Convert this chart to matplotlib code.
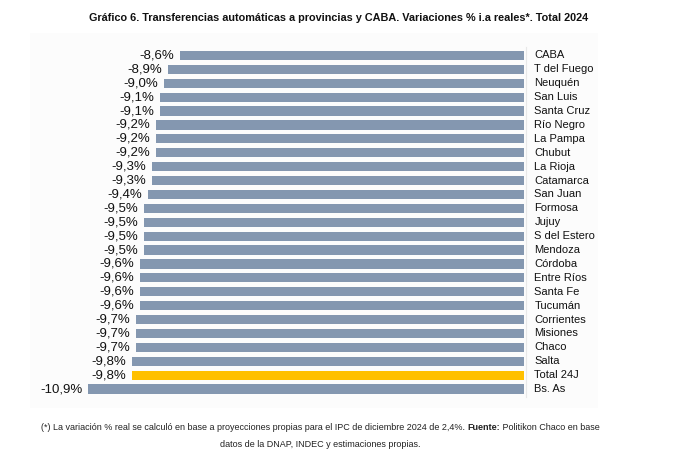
import matplotlib
matplotlib.use("Agg")
import matplotlib.pyplot as plt
from matplotlib.patches import Rectangle

FONT = "Liberation Sans"

categories = ["CABA", "T del Fuego", "Neuquén", "San Luis", "Santa Cruz", "Río Negro",
              "La Pampa", "Chubut", "La Rioja", "Catamarca", "San Juan", "Formosa",
              "Jujuy", "S del Estero", "Mendoza", "Córdoba", "Entre Ríos", "Santa Fe",
              "Tucumán", "Corrientes", "Misiones", "Chaco", "Salta", "Total 24J", "Bs. As"]
values = [-8.6, -8.9, -9.0, -9.1, -9.1, -9.2, -9.2, -9.2, -9.3, -9.3, -9.4, -9.5,
          -9.5, -9.5, -9.5, -9.6, -9.6, -9.6, -9.6, -9.7, -9.7, -9.7, -9.8, -9.8, -10.9]
highlight = "Total 24J"

W, H = 676, 473
fig = plt.figure(figsize=(W / 100, H / 100), dpi=100)

# faint background panel
bg = Rectangle((30 / W, 1 - 408 / H), (598 - 30) / W, (408 - 33) / H,
               transform=fig.transFigure, facecolor="#FCFCFC", edgecolor="none")
bg.set_zorder(-10)
fig.add_artist(bg)

n = len(categories)
x_left_px, x_zero_px = 30, 524
px_per_unit = (524 - 88) / 10.9
y_first, y_last = 55.5, 389.0
step = (y_last - y_first) / (n - 1)
top_px = y_first - step / 2
bot_px = y_last + step / 2

ax = fig.add_axes([x_left_px / W, 1 - bot_px / H, (x_zero_px - x_left_px) / W, (bot_px - top_px) / H])
ax.set_zorder(1)
ax.set_xlim(-(x_zero_px - x_left_px) / px_per_unit, 0)
ax.set_ylim(n - 0.5, -0.5)
ax.axis("off")
ax.patch.set_visible(False)

colors = ["#FFC000" if c == highlight else "#8497B0" for c in categories]
ypos = list(range(n))
ax.barh(ypos, values, height=0.66, color=colors, left=0)

for y, v, c in zip(ypos, values, categories):
    ax.annotate(f"{v:.1f}%".replace(".", ","), xy=(v, y), xytext=(-4, 0),
                textcoords="offset points", ha="right", va="center",
                fontsize=9.5, family=FONT, color="#111111")
    ax.annotate(c, xy=(0, y), xytext=(7.5, 0), textcoords="offset points",
                ha="left", va="center", fontsize=8, family=FONT, color="#111111")

ax.plot([0.06, 0.06], [-0.6, n - 0.4], color="#E8E8E8", lw=0.8, clip_on=False)

fig.text(339 / W, 1 - 18 / H,
         "Gráfico 6. Transferencias automáticas a provincias y CABA. Variaciones % i.a reales*. Total 2024",
         ha="center", va="center", fontsize=7.8, fontweight="bold", family=FONT, color="#111111")

fs = 6.5
parts = [("(*) La variación % real se calculó en base a proyecciones propias para el IPC de diciembre 2024 de 2,4%. ", "normal"),
         ("Fuente:", "bold"),
         (" Politikon Chaco en base", "normal")]
renderer = fig.canvas.get_renderer()
objs = []
for txt, wt in parts:
    t = fig.text(0, 1 - 427 / H, txt, ha="left", va="center", fontsize=fs,
                 fontweight=wt, family=FONT, color="#222222")
    objs.append(t)
widths = [o.get_window_extent(renderer).width for o in objs]
total = sum(widths)
x0 = 320 - total / 2
for o, w in zip(objs, widths):
    o.set_x(x0 / W)
    x0 += w
fig.text(320 / W, 1 - 444 / H, "datos de la DNAP, INDEC y estimaciones propias.",
         ha="center", va="center", fontsize=fs, family=FONT, color="#222222")

fig.savefig("out.png", dpi=100, facecolor="white")
